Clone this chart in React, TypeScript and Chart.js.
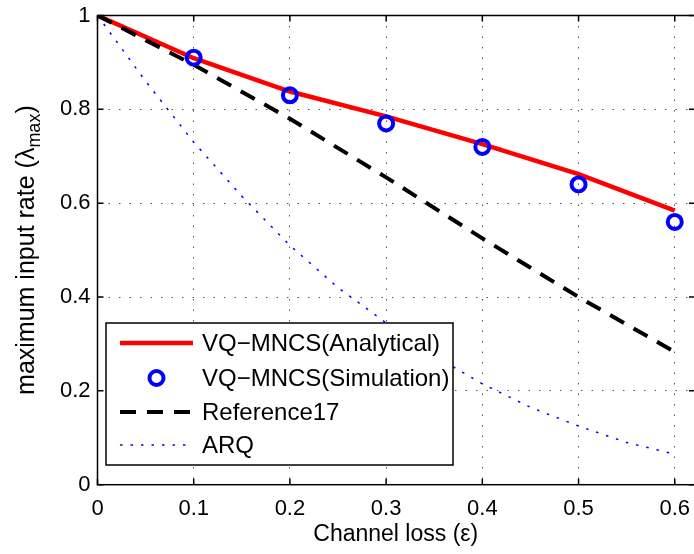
import React, { useEffect, useRef } from "react";
import { Chart, registerables } from "chart.js";

Chart.register(...registerables);

const FONT_FAMILY = '"Liberation Sans", Arial, Helvetica, sans-serif';

// Channel loss values and the rates computed / measured for each scheme
const epsilon = [0, 0.1, 0.2, 0.3, 0.4, 0.5, 0.6];
const analytical = [1, 0.909, 0.838, 0.785, 0.726, 0.662, 0.584];
const simEpsilon = [0.1, 0.2, 0.3, 0.4, 0.5, 0.6];
const simulation = [0.91, 0.83, 0.77, 0.72, 0.64, 0.56];
const reference17 = [1, 0.895, 0.78, 0.655, 0.525, 0.4, 0.283];
const arqEpsilon = [0, 0.05, 0.1, 0.15, 0.2, 0.25, 0.3, 0.35, 0.4, 0.45, 0.5, 0.55, 0.6];
const arq = [1, 0.86, 0.73, 0.615, 0.51, 0.42, 0.345, 0.275, 0.215, 0.165, 0.125, 0.09, 0.065];

const xTicks = [0, 0.1, 0.2, 0.3, 0.4, 0.5, 0.6];
const xTickLabels = ["0", "0.1", "0.2", "0.3", "0.4", "0.5", "0.6"];
const yTicks = [0, 0.2, 0.4, 0.6, 0.8, 1];
const yTickLabels = ["0", "0.2", "0.4", "0.6", "0.8", "1"];

const seriesLabels = [
  "VQ\u2212MNCS(Analytical)",
  "VQ\u2212MNCS(Simulation)",
  "Reference17",
  "ARQ",
];
const xTitle = "Channel loss (\u03b5)";
const yTitleMain = "maximum input rate (\u03bb";
const yTitleSub = "max";
const yTitleEnd = ")";

const RED = "#ff0000";
const BLUE = "#0000ff";
const ARQ_DASH = [2.5, 8];
const REF_DASH = [16, 11];

const pts = (xs: number[], ys: number[]) => xs.map((x, i) => ({ x, y: ys[i] }));

// Box around the plot with inward ticks, the rotated y title and the legend
const decorations = {
  id: "decorations",
  afterDatasetsDraw(chart: any) {
    const { ctx, chartArea: a, scales } = chart;
    // the right edge of the axes box sits just past the canvas edge
    const right = Math.max(a.right, chart.width + 1);
    ctx.save();
    ctx.strokeStyle = "#000";
    ctx.lineWidth = 1.5;
    ctx.setLineDash([]);
    ctx.strokeRect(a.left, a.top, right - a.left, a.bottom - a.top);
    const tl = 6;
    ctx.beginPath();
    for (const v of xTicks) {
      const px = scales.x.getPixelForValue(v);
      ctx.moveTo(px, a.bottom);
      ctx.lineTo(px, a.bottom - tl);
      ctx.moveTo(px, a.top);
      ctx.lineTo(px, a.top + tl);
    }
    for (const v of yTicks) {
      const py = scales.y.getPixelForValue(v);
      ctx.moveTo(a.left, py);
      ctx.lineTo(a.left + tl, py);
      ctx.moveTo(right, py);
      ctx.lineTo(right - tl, py);
    }
    ctx.stroke();
    ctx.restore();
  },
  afterDraw(chart: any) {
    const { ctx, chartArea: a } = chart;
    ctx.save();

    // y-axis title with subscript
    const mainFont = `25px ${FONT_FAMILY}`;
    const subFont = `18px ${FONT_FAMILY}`;
    ctx.font = mainFont;
    const w1 = ctx.measureText(yTitleMain).width;
    const w3 = ctx.measureText(yTitleEnd).width;
    ctx.font = subFont;
    const w2 = ctx.measureText(yTitleSub).width;
    const total = w1 + w2 + w3;
    const cy = (a.top + a.bottom) / 2;
    ctx.translate(34, cy);
    ctx.rotate(-Math.PI / 2);
    ctx.fillStyle = "#000";
    ctx.textBaseline = "alphabetic";
    ctx.textAlign = "left";
    let u = -total / 2;
    ctx.font = mainFont;
    ctx.fillText(yTitleMain, u, 0);
    u += w1;
    ctx.font = subFont;
    ctx.fillText(yTitleSub, u, 6);
    u += w2;
    ctx.font = mainFont;
    ctx.fillText(yTitleEnd, u, 0);
    ctx.setTransform(1, 0, 0, 1, 0, 0);
    ctx.restore();

    // legend
    ctx.save();
    const box = { x: 106, y: 323, w: 347, h: 142 };
    ctx.fillStyle = "#fff";
    ctx.fillRect(box.x, box.y, box.w, box.h);
    ctx.strokeStyle = "#000";
    ctx.lineWidth = 1.5;
    ctx.strokeRect(box.x, box.y, box.w, box.h);
    const rows = [343, 378, 412, 445];
    const ds = chart.data.datasets;
    const x0 = 120;
    const x1 = 193;
    rows.forEach((ry: number, i: number) => {
      const d = ds[i];
      if (d.showLine) {
        ctx.beginPath();
        ctx.strokeStyle = d.borderColor;
        ctx.lineWidth = d.borderWidth;
        ctx.setLineDash(d.borderDash || []);
        ctx.moveTo(x0, ry);
        ctx.lineTo(x1, ry);
        ctx.stroke();
      } else {
        ctx.beginPath();
        ctx.setLineDash([]);
        ctx.strokeStyle = d.pointBorderColor;
        ctx.lineWidth = d.pointBorderWidth;
        ctx.arc((x0 + x1) / 2, ry, d.pointRadius, 0, Math.PI * 2);
        ctx.stroke();
      }
      ctx.setLineDash([]);
      ctx.fillStyle = "#000";
      ctx.font = `24px ${FONT_FAMILY}`;
      ctx.textBaseline = "middle";
      ctx.textAlign = "left";
      ctx.fillText(d.label, 202, ry + 1);
    });
    ctx.restore();
  },
};

export default function App() {
  const canvasRef = useRef<HTMLCanvasElement>(null);

  useEffect(() => {
    const canvas = canvasRef.current;
    if (!canvas) return;
    const tickFont = { family: FONT_FAMILY, size: 22 };
    const chart = new Chart(canvas, {
      type: "scatter",
      data: {
        datasets: [
          {
            label: seriesLabels[0],
            data: pts(epsilon, analytical),
            showLine: true,
            borderColor: RED,
            backgroundColor: RED,
            borderWidth: 4.5,
            pointRadius: 0,
            order: 2,
          },
          {
            label: seriesLabels[1],
            data: pts(simEpsilon, simulation),
            showLine: false,
            pointStyle: "circle",
            pointRadius: 7,
            pointBorderWidth: 4,
            pointBorderColor: BLUE,
            pointBackgroundColor: "rgba(0,0,0,0)",
            borderColor: BLUE,
            order: 0,
          },
          {
            label: seriesLabels[2],
            data: pts(epsilon, reference17),
            showLine: true,
            borderColor: "#000",
            backgroundColor: "#000",
            borderWidth: 4,
            borderDash: REF_DASH,
            pointRadius: 0,
            order: 1,
          },
          {
            label: seriesLabels[3],
            data: pts(arqEpsilon, arq),
            showLine: true,
            borderColor: BLUE,
            backgroundColor: BLUE,
            borderWidth: 1.5,
            borderDash: ARQ_DASH,
            pointRadius: 0,
            order: 3,
          },
        ],
      },
      options: {
        animation: false,
        responsive: false,
        devicePixelRatio: 1,
        layout: { autoPadding: false, padding: { top: 15.5, right: 0, bottom: 0, left: 0 } },
        plugins: {
          legend: { display: false },
          tooltip: { enabled: false },
        },
        scales: {
          x: {
            type: "linear",
            min: 0,
            max: 0.62,
            afterBuildTicks: (s: any) => {
              s.ticks = xTicks.map((v) => ({ value: v }));
            },
            afterFit: (s: any) => {
              s.height = 554 - 484.7;
              s.paddingLeft = 0;
              s.paddingRight = 0;
            },
            ticks: {
              callback: (_v: any, i: number) => xTickLabels[i],
              font: tickFont,
              color: "#000",
              padding: 11,
              maxRotation: 0,
              autoSkip: false,
            },
            grid: { color: "#555", lineWidth: 1, drawTicks: false },
            border: { display: false, dash: [1.5, 9] },
            title: {
              display: true,
              text: xTitle,
              color: "#000",
              font: { family: FONT_FAMILY, size: 23 },
              padding: { top: 0, bottom: 6 },
            },
          },
          y: {
            type: "linear",
            min: 0,
            max: 1,
            afterBuildTicks: (s: any) => {
              s.ticks = yTicks.map((v) => ({ value: v }));
            },
            afterFit: (s: any) => {
              s.width = 97.5;
              s.paddingTop = 0;
              s.paddingBottom = 0;
            },
            ticks: {
              callback: (_v: any, i: number) => yTickLabels[i],
              font: tickFont,
              color: "#000",
              padding: 7,
              autoSkip: false,
            },
            grid: { color: "#555", lineWidth: 1, drawTicks: false },
            border: { display: false, dash: [1.5, 9] },
          },
        },
      },
      plugins: [decorations],
    });
    return () => chart.destroy();
  }, []);

  return (
    <div style={{ position: "absolute", left: 0, top: 0, width: 694, height: 554, background: "#fff" }}>
      <canvas ref={canvasRef} width={694} height={554} style={{ display: "block", width: 694, height: 554 }} />
    </div>
  );
}
